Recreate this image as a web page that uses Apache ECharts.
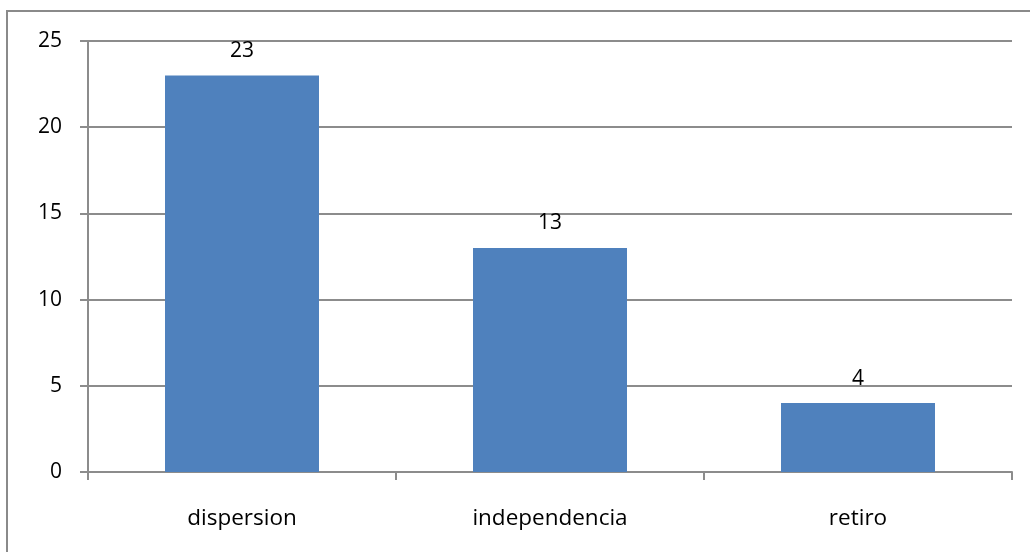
<!DOCTYPE html>
<html>
<head>
<meta charset="utf-8">
<script src="https://cdn.jsdelivr.net/npm/echarts@6/dist/echarts.min.js"></script>
<style>
  html, body { margin: 0; padding: 0; background: #fff; }
  #chart { width: 1030px; height: 552px; }
</style>
</head>
<body>
<div id="chart"></div>
<script>
// Categories and counts
const categories = ['dispersion', 'independencia', 'retiro'];
const counts = [23, 13, 4];
const yTicks = { min: 0, max: 25, interval: 5 };

const chart = echarts.init(document.getElementById('chart'));
const axisGrey = '#8c8c8c';
const font = 'Open Sans';
const fs = 21;

chart.setOption({
  animation: false,
  backgroundColor: '#ffffff',
  grid: { left: 88, right: 18, top: 41, bottom: 80, containLabel: false },
  graphic: [{
    type: 'rect',
    shape: { x: 7, y: 11, width: 1040, height: 560 },
    style: { fill: 'none', stroke: '#8a8a8a', lineWidth: 2 },
    silent: true
  }],
  xAxis: {
    type: 'category',
    data: categories,
    axisLine: { show: true, lineStyle: { color: axisGrey, width: 2 } },
    axisTick: { show: true, alignWithLabel: false, length: 8, lineStyle: { color: axisGrey, width: 2 } },
    axisLabel: { color: '#000', fontFamily: font, fontSize: 22.5, margin: 35, lineHeight: 24 },
    splitLine: { show: false }
  },
  yAxis: {
    type: 'value',
    min: yTicks.min,
    max: yTicks.max,
    interval: yTicks.interval,
    axisLine: { show: true, lineStyle: { color: axisGrey, width: 2 } },
    axisTick: { show: true, length: 8, lineStyle: { color: axisGrey, width: 2 } },
    axisLabel: { color: '#000', fontFamily: font, fontSize: fs, margin: 26 },
    splitLine: { show: true, lineStyle: { color: axisGrey, width: 2 } }
  },
  series: [{
    type: 'bar',
    data: counts,
    barWidth: '50%',
    itemStyle: { color: '#4f81bd' },
    label: {
      show: true,
      position: 'top',
      distance: 14,
      color: '#000',
      fontFamily: font,
      fontSize: fs
    }
  }]
});
</script>
</body>
</html>
